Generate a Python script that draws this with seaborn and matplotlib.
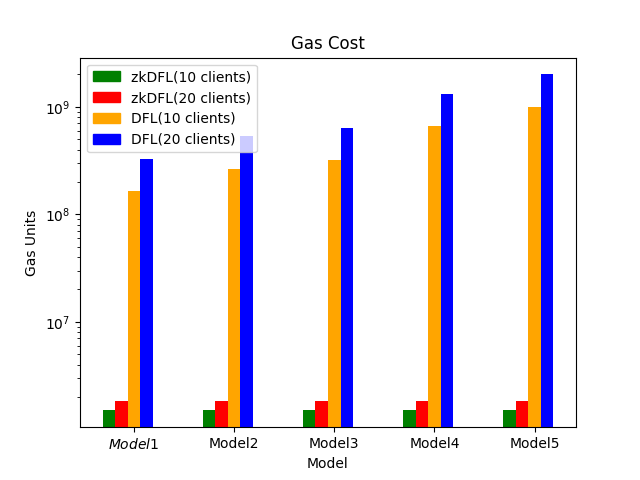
import pandas as pd
import seaborn as sns
import matplotlib.pyplot as plt
import numpy as np
from matplotlib.patches import Patch

# Values
models = ['Model1', 'Model2', 'Model3', 'Model4', 'Model5']
tick_labels = ['$Model1$', 'Model2', 'Model3', 'Model4', 'Model5']
setups = ['zkDFL(10 clients)', 'zkDFL(20 clients)', 'DFL(10 clients)', 'DFL(20 clients)']
zkdfl_10 = [1.5e6, 1.5e6, 1.5e6, 1.5e6, 1.5e6]
zkdfl_20 = [1.85e6, 1.85e6, 1.85e6, 1.85e6, 1.85e6]
dfl_10 = [1.65e8, 2.65e8, 3.2e8, 6.6e8, 1.0e9]
dfl_20 = [3.3e8, 5.3e8, 6.4e8, 1.32e9, 2.0e9]
colors = ['green', 'red', 'orange', 'blue']

# Long format for seaborn
df = pd.DataFrame({
    'Model': models * 4,
    'Setup': np.repeat(setups, len(models)),
    'Gas': zkdfl_10 + zkdfl_20 + dfl_10 + dfl_20,
})

fig, ax = plt.subplots(figsize=(6.4, 4.8), dpi=100)
sns.barplot(data=df, x='Model', y='Gas', hue='Setup', hue_order=setups,
            palette=colors, width=0.5, saturation=1, errorbar=None, ax=ax)
ax.set_yscale('log')
ax.relim()
ax.autoscale_view()

# ticks sit under the third bar of each group, like the original
ax.set_xticks(np.arange(len(models)) + 0.0625)
ax.set_xticklabels(tick_labels)
ax.set_xlim(-0.475, 4.475)

handles = [Patch(color=c) for c in colors]
ax.legend(handles, setups, loc='upper left')

ax.set_title('Gas Cost')
ax.set_xlabel('Model')
ax.set_ylabel('Gas Units')

fig.savefig('out.png')
